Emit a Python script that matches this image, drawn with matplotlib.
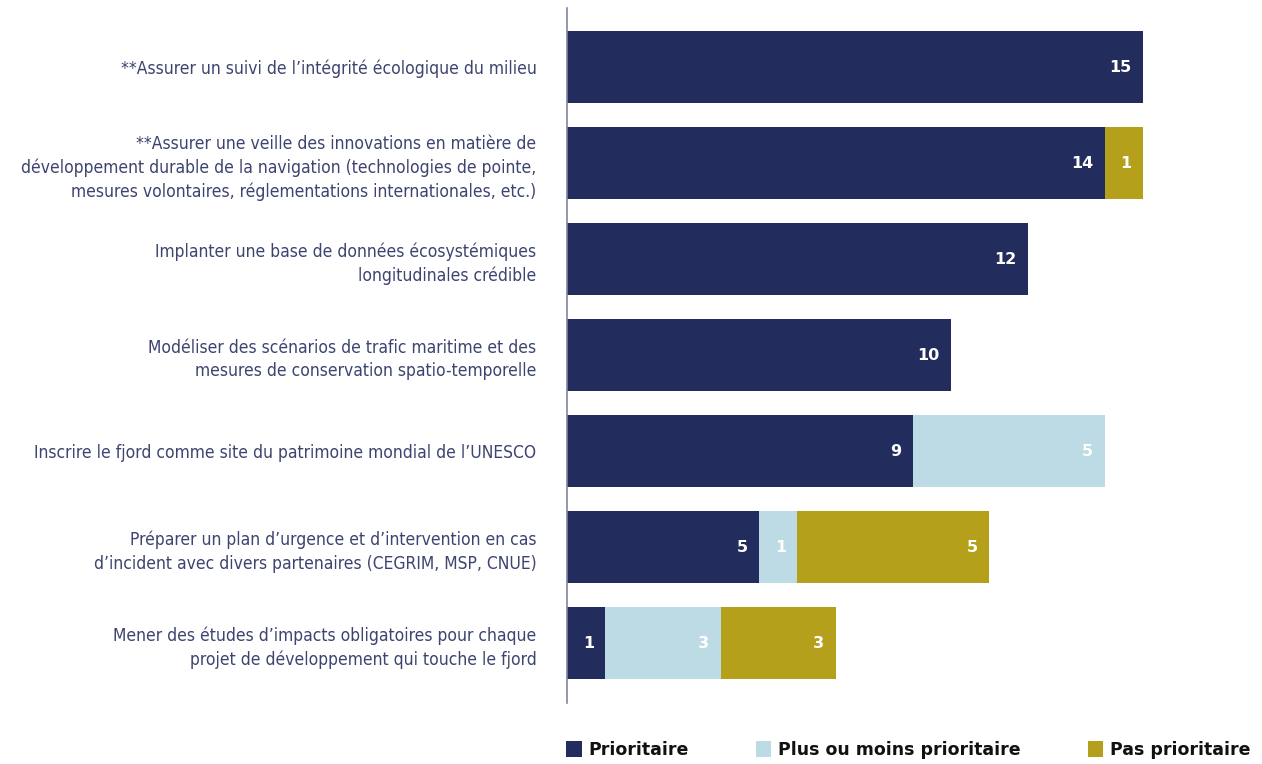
import matplotlib.pyplot as plt
from matplotlib.patches import Patch

categories = [
    "**Assurer un suivi de l\u2019int\u00e9grit\u00e9 \u00e9cologique du milieu",
    "**Assurer une veille des innovations en mati\u00e8re de\nd\u00e9veloppement durable de la navigation (technologies de pointe,\nmesures volontaires, r\u00e9glementations internationales, etc.)",
    "Implanter une base de donn\u00e9es \u00e9cosyst\u00e9miques\nlongitudinales cr\u00e9dible",
    "Mod\u00e9liser des sc\u00e9narios de trafic maritime et des\nmesures de conservation spatio-temporelle",
    "Inscrire le fjord comme site du patrimoine mondial de l\u2019UNESCO",
    "Pr\u00e9parer un plan d\u2019urgence et d\u2019intervention en cas\nd\u2019incident avec divers partenaires (CEGRIM, MSP, CNUE)",
    "Mener des \u00e9tudes d\u2019impacts obligatoires pour chaque\nprojet de d\u00e9veloppement qui touche le fjord",
]
prioritaire = [15, 14, 12, 10, 9, 5, 1]
plus_ou_moins = [0, 0, 0, 0, 5, 1, 3]
pas_prioritaire = [0, 1, 0, 0, 0, 5, 3]
series_names = ["Prioritaire", "Plus ou moins prioritaire", "Pas prioritaire"]
colors = ["#232d5d", "#bddbe4", "#b5a01c"]

fig = plt.figure(figsize=(12.62, 7.64), dpi=100)
ax = fig.add_axes([567 / 1262, 61 / 764, 695 / 1262, 695 / 764])

y = list(range(len(categories)))
left = [0] * len(categories)
for vals, color in zip([prioritaire, plus_ou_moins, pas_prioritaire], colors):
    bars = ax.barh(y, vals, left=left, height=0.75, color=color, linewidth=0)
    for b, v in zip(bars, vals):
        if v > 0:
            ax.text(b.get_x() + b.get_width() - 0.3, b.get_y() + b.get_height() / 2, str(v),
                    ha="right", va="center", color="white", fontsize=11.5,
                    fontweight="bold", family="DejaVu Sans")
    left = [l + v for l, v in zip(left, vals)]

ax.set_xlim(0, 695 / 38.4)
ax.set_ylim(6.625, -0.615)
ax.set_yticks(y)
ax.set_yticklabels(categories, fontsize=12.5, color="#3d4470", family="DejaVu Sans",
                   fontstretch="condensed", linespacing=1.38)
ax.tick_params(axis="y", length=0, pad=22)
ax.set_xticks([])
for s in ["top", "right", "bottom"]:
    ax.spines[s].set_visible(False)
ax.spines["left"].set_color("#80849e")
ax.spines["left"].set_linewidth(1.2)

handles = [Patch(facecolor=c, edgecolor="none", label=n) for c, n in zip(colors, series_names)]
leg = fig.legend(handles=handles, loc="center left", bbox_to_anchor=(566 / 1262, 14 / 764),
                 ncol=3, frameon=False, handlelength=0.9, handleheight=1.0, handletextpad=0.4,
                 columnspacing=3.85, prop={"weight": "bold", "size": 12.5, "family": "DejaVu Sans"},
                 borderaxespad=0, borderpad=0)
for t in leg.get_texts():
    t.set_color("#111111")

fig.savefig("out.png", dpi=100)
